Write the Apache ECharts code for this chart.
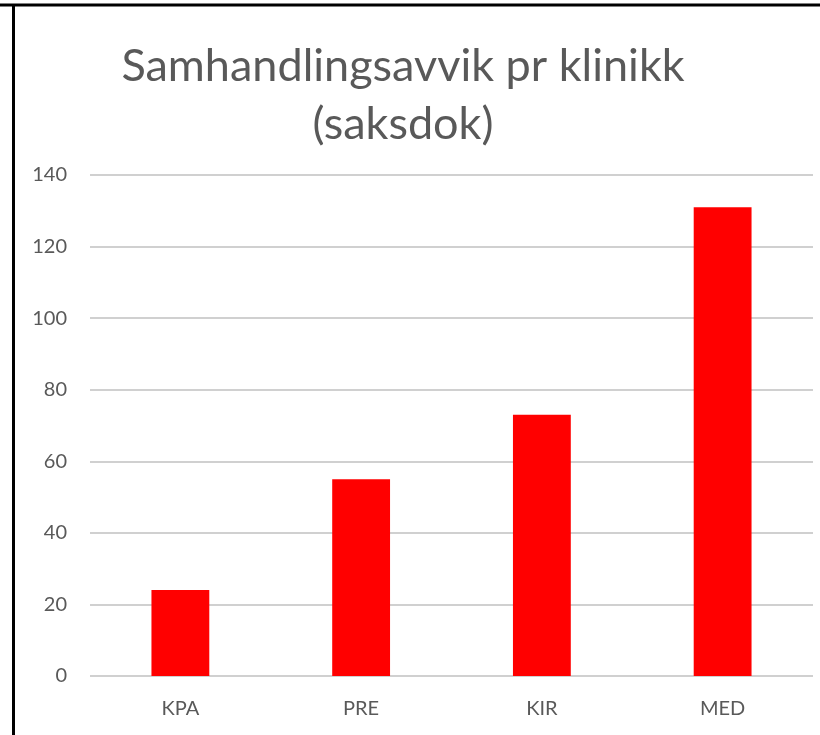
<!DOCTYPE html>
<html><head><meta charset="utf-8">
<script src="https://cdn.jsdelivr.net/npm/echarts@6/dist/echarts.min.js"></script>
<style>html,body{margin:0;padding:0;background:#fff}#c{width:820px;height:735px}</style>
</head><body><div id="c"></div>
<script>
const categories = ["KPA", "PRE", "KIR", "MED"];
const values = [24, 55, 73, 131];
const yTicks = [0, 20, 40, 60, 80, 100, 120, 140];
const titleLines = ["Samhandlingsavvik pr klinikk", "(saksdok)"];

const chart = echarts.init(document.getElementById('c'), null, {renderer: 'canvas'});
chart.setOption({
  animation: false,
  backgroundColor: '#fff',
  title: {
    text: titleLines.join('\n'),
    left: 398, top: 32, textAlign: 'center',
    textStyle: {fontFamily: 'Lato', fontWeight: 'normal', fontSize: 45, color: '#595959', lineHeight: 58}
  },
  graphic: [
    {type: 'line', shape: {x1: 0, y1: 5, x2: 820, y2: 5}, style: {stroke: '#000', lineWidth: 3}},
    {type: 'line', shape: {x1: 13.5, y1: 4, x2: 13.5, y2: 735}, style: {stroke: '#000', lineWidth: 3}}
  ],
  grid: {left: 90, right: 7, top: 175, bottom: 59, containLabel: false},
  xAxis: {
    type: 'category', data: categories,
    axisLine: {show: false}, axisTick: {show: false},
    axisLabel: {fontFamily: 'Lato', fontSize: 20, color: '#595959', margin: 23}
  },
  yAxis: {
    type: 'value', min: yTicks[0], max: yTicks[yTicks.length - 1], interval: 20,
    axisLine: {show: false}, axisTick: {show: false},
    axisLabel: {fontFamily: 'Lato', fontSize: 20, color: '#595959', margin: 23},
    splitLine: {lineStyle: {color: '#d0d0d0', width: 2}}
  },
  series: [{
    type: 'bar', data: values, barWidth: '32%',
    itemStyle: {color: '#ff0000'}
  }]
});
</script></body></html>
